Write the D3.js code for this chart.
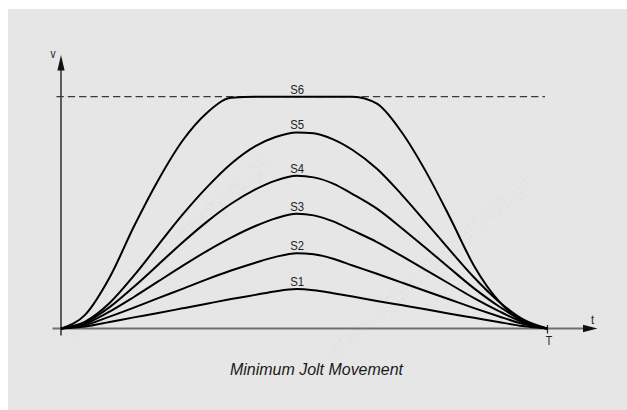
<!DOCTYPE html>
<html>
<head>
<meta charset="utf-8">
<script src="https://cdn.jsdelivr.net/npm/d3@7"></script>
<style>
  html, body { margin: 0; padding: 0; background: #ffffff; }
  svg { display: block; }
</style>
</head>
<body>
<svg id="chart" width="627" height="410"></svg>
<script>
// Time samples, in percent of the move time T
const tPct = [0, 5, 10, 15, 20, 25, 30, 35, 40, 44, 48.5, 52, 56, 60, 65, 70, 75, 80, 85, 90, 95, 100];

// Velocity profiles, in percent of the maximum speed (dashed line)
const s1 = [0, 0.85, 2.8, 4.8, 6.7, 8.7, 10.7, 12.7, 14.5, 16.0, 17.0, 16.5, 15.2, 13.8, 11.9, 10.1, 8.3, 6.4, 4.6, 2.8, 1.1, 0];
const s2 = [0, 1.5, 5.1, 9.0, 13.1, 17.1, 21.2, 25.0, 28.4, 30.8, 32.5, 32.0, 30.1, 27.2, 23.6, 19.9, 16.2, 12.5, 8.8, 5.3, 2.0, 0];
const s3 = [0, 2.1, 7.3, 13.6, 20.3, 27.0, 33.4, 39.2, 44.2, 47.4, 49.5, 48.8, 46.2, 42.3, 37.3, 31.4, 25.3, 19.2, 13.1, 7.6, 2.8, 0];
const s4 = [0, 2.6, 9.2, 18.0, 27.5, 37.1, 46.0, 53.8, 60.0, 63.7, 65.9, 65.2, 62.5, 58.0, 51.7, 43.5, 34.8, 26.0, 17.3, 9.7, 3.4, 0];
const s5 = [0, 3.0, 11.0, 22.8, 36.0, 49.1, 60.9, 71.1, 78.7, 82.5, 84.6, 84.2, 81.6, 77.0, 68.9, 58.0, 46.0, 33.8, 22.0, 11.8, 4.0, 0];
const s6 = [0, 6, 22, 44, 64, 81, 93, 99.5, 100, 100, 100, 100, 100, 100, 97, 85, 68, 48, 27, 12, 3, 0];

const seriesNames = ["S1", "S2", "S3", "S4", "S5", "S6"];
const seriesValues = [s1, s2, s3, s4, s5, s6];

// Speed limit drawn as the dashed reference line
const speedLimit = [100];

// Axis captions
const axisLabels = { v: "v", t: "t", T: "T" };
const caption = "Minimum Jolt Movement";
const watermark = "www.rgbautomatyka.pl";

const svg = d3.select("#chart");
const W = 627, H = 410;
const FONT = "'Liberation Sans', Arial, sans-serif";
const NARROW = 0.84; // horizontal squeeze for a condensed look

// Grey panel
svg.append("rect")
  .attr("x", 8).attr("y", 9)
  .attr("width", W - 8).attr("height", H - 9)
  .attr("fill", "#e6e6e6");

// Faint diagonal watermark text
const wmGroup = svg.append("g").attr("pointer-events", "none");
const wmSpots = [[72, 345], [334, 362]];
wmGroup.selectAll("text")
  .data(wmSpots)
  .join("text")
  .attr("transform", d => `translate(${d[0]},${d[1]}) rotate(-42)`)
  .attr("font-family", FONT)
  .attr("font-size", 24)
  .attr("textLength", 268)
  .attr("lengthAdjust", "spacingAndGlyphs")
  .attr("fill", "#ebebeb")
  .attr("stroke", "#dddddd")
  .attr("stroke-width", 0.5)
  .text(watermark);

// Scales
const x = d3.scaleLinear().domain([0, 100]).range([61, 547]);
const y = d3.scaleLinear().domain([0, 100]).range([328.5, 96.7]);

// Horizontal (time) axis with arrow
svg.append("line")
  .attr("x1", 52.5).attr("x2", 584)
  .attr("y1", y(0)).attr("y2", y(0))
  .attr("stroke", "#707070").attr("stroke-width", 2);
svg.append("path")
  .attr("d", d3.line()([[583, y(0) - 3.8], [597.5, y(0)], [583, y(0) + 3.8]]) + "Z")
  .attr("fill", "#111");

// Vertical (speed) axis with arrow
svg.append("line")
  .attr("x1", x(0)).attr("x2", x(0))
  .attr("y1", 335.5).attr("y2", 69)
  .attr("stroke", "#111").attr("stroke-width", 1.3);
svg.append("path")
  .attr("d", d3.line()([[x(0) - 3.6, 70.5], [x(0), 55], [x(0) + 3.6, 70.5]]) + "Z")
  .attr("fill", "#111");

// End-of-move tick "T"
const xAxis = d3.axisBottom(x)
  .tickValues([100])
  .tickFormat(() => axisLabels.T)
  .tickSize(5)
  .tickPadding(3);
const gx = svg.append("g")
  .attr("transform", `translate(0,${y(0)})`)
  .call(xAxis);
gx.select(".domain").remove();
gx.selectAll(".tick line").attr("y1", -3.5).attr("stroke", "#222").attr("stroke-width", 1.2);
gx.selectAll(".tick text")
  .attr("font-family", FONT)
  .attr("font-size", 12.5)
  .attr("fill", "#222")
  .attr("transform", `translate(1.5,0) scale(${NARROW},1)`);

// Axis letters
function narrowText(px, py, size, str) {
  return svg.append("text")
    .attr("transform", `translate(${px},${py}) scale(${NARROW},1)`)
    .attr("text-anchor", "middle")
    .attr("font-family", FONT).attr("font-size", size).attr("fill", "#222")
    .text(str);
}
narrowText(53, 57.5, 12, axisLabels.v);
narrowText(592.7, 324, 13.5, axisLabels.t);

// Dashed speed-limit line
svg.selectAll(".limit")
  .data(speedLimit)
  .join("line")
  .attr("class", "limit")
  .attr("x1", 56.5).attr("x2", 545)
  .attr("y1", d => y(d)).attr("y2", d => y(d))
  .attr("stroke", "#3a3a3a").attr("stroke-width", 1.3)
  .attr("stroke-dasharray", "7.3,4");

// Velocity curves
const line = d3.line()
  .x((d, i) => x(tPct[i]))
  .y(d => y(d))
  .curve(d3.curveMonotoneX);

svg.selectAll(".profile")
  .data(seriesValues)
  .join("path")
  .attr("class", "profile")
  .attr("d", d => line(d))
  .attr("fill", "none")
  .attr("stroke", "#000")
  .attr("stroke-width", 2)
  .attr("stroke-linejoin", "round");

// Curve names above each peak
const peakIdx = tPct.indexOf(48.5);
svg.selectAll(".name")
  .data(seriesValues)
  .join("text")
  .attr("class", "name")
  .attr("transform", d => `translate(${x(tPct[peakIdx]) + 0.5},${y(d3.max(d)) - 3}) scale(${NARROW},1)`)
  .attr("text-anchor", "middle")
  .attr("font-family", FONT)
  .attr("font-size", 13.5)
  .attr("fill", "#222")
  .text((d, i) => seriesNames[i]);

// Caption
svg.append("text")
  .attr("x", 316.5).attr("y", 375)
  .attr("text-anchor", "middle")
  .attr("font-family", FONT)
  .attr("font-style", "italic")
  .attr("font-size", 17)
  .attr("fill", "#1a1a1a")
  .attr("textLength", 173)
  .attr("lengthAdjust", "spacingAndGlyphs")
  .text(caption);
</script>
</body>
</html>
